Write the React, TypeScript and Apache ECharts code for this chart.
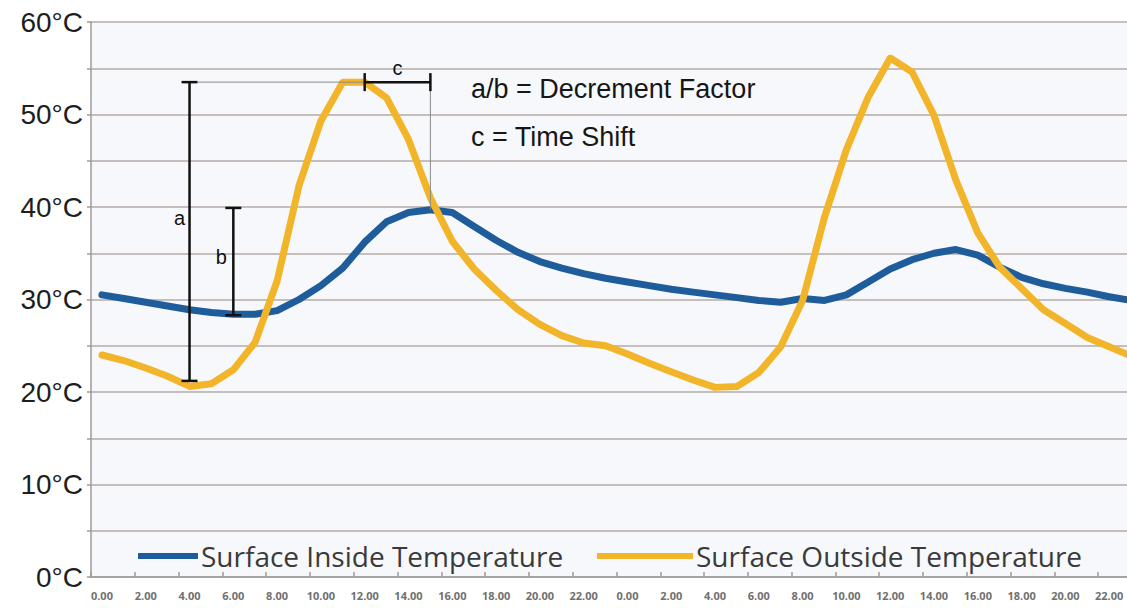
import React, { useEffect, useRef } from "react";
import * as echarts from "echarts";

// 48 hourly categories (two days)
const hourKeys: string[] = Array.from({ length: 48 }, (_, i) => String(i));

// tick labels shown every 2 hours
const tickLabels = [
  "0.00", "2.00", "4.00", "6.00", "8.00", "10.00", "12.00", "14.00", "16.00", "18.00", "20.00", "22.00",
  "0.00", "2.00", "4.00", "6.00", "8.00", "10.00", "12.00", "14.00", "16.00", "18.00", "20.00", "22.00",
];

const seriesNames = ["Surface Inside Temperature", "Surface Outside Temperature"];

const insideTemp = [
  30.5, 30.1, 29.7, 29.3, 28.9, 28.6, 28.4, 28.4, 28.8, 30.0, 31.5, 33.4,
  36.2, 38.4, 39.4, 39.7, 39.4, 37.9, 36.4, 35.1, 34.1, 33.4, 32.8, 32.3,
  31.9, 31.5, 31.1, 30.8, 30.5, 30.2, 29.9, 29.7, 30.1, 29.9, 30.5, 31.9,
  33.3, 34.3, 35.0, 35.4, 34.8, 33.5, 32.4, 31.7, 31.2, 30.8, 30.3, 29.9,
];

const outsideTemp = [
  24.0, 23.4, 22.6, 21.7, 20.6, 20.9, 22.4, 25.4, 32.0, 42.3, 49.3, 53.5,
  53.5, 51.8, 47.3, 41.0, 36.3, 33.3, 31.0, 28.9, 27.3, 26.1, 25.3, 25.0,
  24.1, 23.1, 22.2, 21.3, 20.5, 20.6, 22.1, 24.9, 29.9, 38.9, 46.2, 51.9,
  56.1, 54.6, 49.9, 42.9, 37.2, 33.5, 31.2, 28.9, 27.4, 25.9, 24.9, 23.9,
];

// annotation measures (hour index, temperatures)
const annotA = { hour: 4, low: 21.2, high: 53.5, labelAt: 38.8 };
const annotB = { hour: 6, low: 28.3, high: 39.9, labelAt: 34.6 };
const annotC = { fromHour: 12, toHour: 15, level: 53.5, dropTo: 39.7 };
const noteTexts = ["a/b = Decrement Factor", "c = Time Shift"];

const BLUE = "#1f5c9b";
const YELLOW = "#f2b52a";

export default function App() {
  const ref = useRef<HTMLDivElement>(null);

  useEffect(() => {
    if (!ref.current) return;
    const chart = echarts.init(ref.current, null, { renderer: "svg" });
    const legendText = { fontFamily: "Open Sans", fontSize: 28, color: "#3a3a3a", lineHeight: 32, padding: [0, 0, 0, -2] };
    const option: any = {
      animation: false,
      backgroundColor: "#ffffff",
      grid: {
        left: 91,
        top: 22,
        width: 1051,
        height: 555,
        outerBoundsMode: "none",
        containLabel: false,
        show: true,
        backgroundColor: "#f6f8fb",
        borderWidth: 0,
      },
      legend: [
        {
          data: [seriesNames[0]],
          left: 133,
          top: 535,
          icon: "rect",
          itemWidth: 60,
          itemHeight: 6,
          selectedMode: false,
          textStyle: legendText,
        },
        {
          data: [seriesNames[1]],
          left: 592,
          top: 535,
          icon: "rect",
          itemWidth: 96,
          itemHeight: 6,
          selectedMode: false,
          textStyle: legendText,
        },
      ],
      xAxis: {
        type: "category",
        data: hourKeys,
        boundaryGap: true,
        axisLine: { show: true, lineStyle: { color: "#a09a96", width: 1.5 } },
        axisTick: { show: true, interval: 1, inside: true, length: 5, lineStyle: { color: "#a09a96", width: 1.5 } },
        axisLabel: {
          interval: 1,
          margin: 13,
          fontFamily: "Open Sans",
          fontWeight: "bold",
          fontSize: 11,
          color: "#707070",
          formatter: (_v: string, i: number) => (i % 2 === 0 ? tickLabels[i / 2] : ""),
        },
        splitLine: { show: false },
      },
      yAxis: {
        type: "value",
        min: 0,
        max: 60,
        interval: 5,
        axisLine: { show: true, lineStyle: { color: "#a09a96", width: 1.5 } },
        axisTick: { show: true, length: 4, lineStyle: { color: "#a09a96", width: 1.5 } },
        axisLabel: {
          margin: 8,
          fontFamily: "Liberation Sans",
          fontSize: 28,
          color: "#1e1e1e",
          formatter: (v: number) => (v % 10 === 0 ? `${v}°C` : ""),
        },
        splitLine: { show: true, lineStyle: { color: "#b3aca7", width: 1.5 } },
      },
      series: [
        {
          name: seriesNames[0],
          type: "line",
          data: insideTemp,
          showSymbol: false,
          color: BLUE,
          lineStyle: { width: 7, color: BLUE, join: "round", cap: "round" },
          z: 2,
        },
        {
          name: seriesNames[1],
          type: "line",
          data: outsideTemp,
          showSymbol: false,
          color: YELLOW,
          lineStyle: { width: 7, color: YELLOW, join: "round", cap: "round" },
          z: 3,
        },
      ],
    };
    chart.setOption(option);

    const px = (h: number, v: number) =>
      chart.convertToPixel({ xAxisIndex: 0, yAxisIndex: 0 }, [h, v]) as number[];

    const black = { stroke: "#111", lineWidth: 2.5 };
    const thin = { stroke: "#8a8a8a", lineWidth: 1 };
    const els: any[] = [];
    const vline = (x: number, y1: number, y2: number, style: any) =>
      els.push({ type: "line", shape: { x1: x, y1, x2: x, y2 }, style, z: 10 });
    const hline = (y: number, x1: number, x2: number, style: any) =>
      els.push({ type: "line", shape: { x1, y1: y, x2, y2: y }, style, z: 10 });

    // a
    const aTop = px(annotA.hour, annotA.high);
    const aBot = px(annotA.hour, annotA.low);
    vline(aTop[0], aTop[1], aBot[1], black);
    hline(aTop[1], aTop[0] - 8, aTop[0] + 8, black);
    hline(aBot[1], aBot[0] - 8, aBot[0] + 8, black);
    const aLab = px(annotA.hour, annotA.labelAt);
    els.push({ type: "text", x: aLab[0] - 10, y: aLab[1], style: { text: "a", font: "20px 'Liberation Sans'", fill: "#111", align: "center", verticalAlign: "middle" }, z: 10 });

    // b
    const bTop = px(annotB.hour, annotB.high);
    const bBot = px(annotB.hour, annotB.low);
    vline(bTop[0], bTop[1], bBot[1], black);
    hline(bTop[1], bTop[0] - 8, bTop[0] + 8, black);
    hline(bBot[1], bBot[0] - 8, bBot[0] + 8, black);
    const bLab = px(annotB.hour, annotB.labelAt);
    els.push({ type: "text", x: bLab[0] - 12, y: bLab[1], style: { text: "b", font: "20px 'Liberation Sans'", fill: "#111", align: "center", verticalAlign: "middle" }, z: 10 });

    // c
    const c1 = px(annotC.fromHour, annotC.level);
    const c2 = px(annotC.toHour, annotC.level);
    const cDrop = px(annotC.toHour, annotC.dropTo);
    hline(c1[1], aTop[0] + 8, c1[0], thin);
    vline(c2[0], c2[1], cDrop[1], thin);
    hline(c1[1], c1[0], c2[0], black);
    vline(c1[0], c1[1] - 9, c1[1] + 9, black);
    vline(c2[0], c2[1] - 9, c2[1] + 9, black);
    els.push({ type: "text", x: (c1[0] + c2[0]) / 2, y: c1[1] - 14, style: { text: "c", font: "20px 'Liberation Sans'", fill: "#111", align: "center", verticalAlign: "middle" }, z: 10 });

    // notes
    els.push({ type: "text", left: 471, top: 75, style: { text: noteTexts[0], font: "27px 'Liberation Sans'", fill: "#161616" }, z: 10 });
    els.push({ type: "text", left: 471, top: 123, style: { text: noteTexts[1], font: "27px 'Liberation Sans'", fill: "#161616" }, z: 10 });

    chart.setOption({ graphic: els });

    return () => chart.dispose();
  }, []);

  return (
    <div
      ref={ref}
      style={{ position: "absolute", left: 0, top: 0, width: 1127, height: 610 }}
    />
  );
}
